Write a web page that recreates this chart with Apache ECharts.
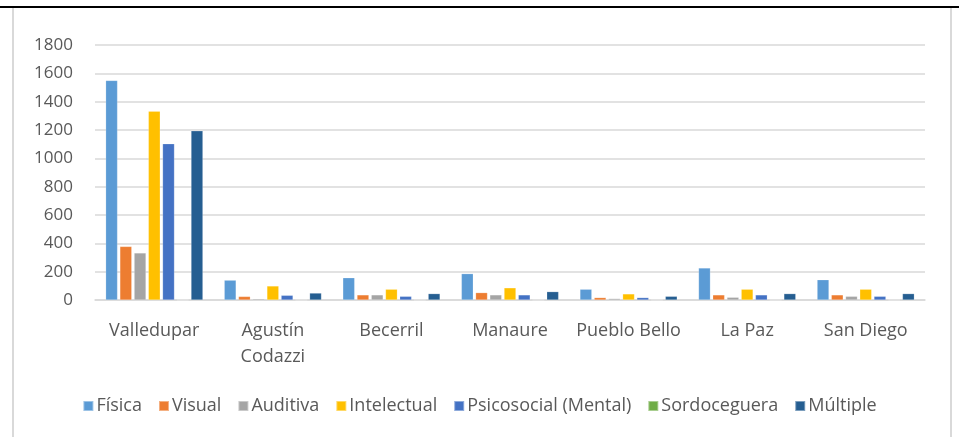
<!DOCTYPE html>
<html>
<head>
<meta charset="utf-8">
<script src="https://cdn.jsdelivr.net/npm/echarts@6/dist/echarts.min.js"></script>
<style>
  html, body { margin: 0; padding: 0; background: #fff; }
  #chart { width: 959px; height: 437px; }
</style>
</head>
<body>
<div id="chart"></div>
<script>
const municipios = ['Valledupar', 'Agustín\nCodazzi', 'Becerril', 'Manaure', 'Pueblo Bello', 'La Paz', 'San Diego'];
const fisica       = [1550, 140, 157, 186, 76, 226, 143];
const visual       = [378, 25, 36, 52, 17, 36, 36];
const auditiva     = [332, 8, 36, 36, 10, 19, 26];
const intelectual  = [1333, 99, 76, 86, 43, 76, 76];
const psicosocial  = [1103, 33, 26, 36, 17, 36, 26];
const sordoceguera = [0, 0, 0, 0, 0, 0, 0];
const multiple     = [1194, 49, 45, 59, 26, 45, 45];

const colors = ['#5B9BD5', '#ED7D31', '#A5A5A5', '#FFC000', '#4472C4', '#70AD47', '#255E91'];
const names = ['Física', 'Visual', 'Auditiva', 'Intelectual', 'Psicosocial (Mental)', 'Sordoceguera', 'Múltiple'];
const values = [fisica, visual, auditiva, intelectual, psicosocial, sordoceguera, multiple];

const font = "'Open Sans', 'Noto Sans', sans-serif";
const chart = echarts.init(document.getElementById('chart'));

chart.setOption({
  animation: false,
  color: colors,
  textStyle: { fontFamily: font, color: '#595959' },
  grid: { left: 95, right: 34, top: 45, bottom: 137, containLabel: false },
  legend: {
    bottom: 17,
    left: 'center',
    itemWidth: 10,
    itemHeight: 10,
    itemGap: 16,
    icon: 'rect',
    textStyle: { fontSize: 18, color: '#595959', fontFamily: font, padding: [0, 0, 0, -2] },
    data: names
  },
  xAxis: {
    type: 'category',
    data: municipios,
    axisLine: { lineStyle: { color: '#d9d9d9', width: 1.5 } },
    axisTick: { show: false },
    axisLabel: { fontSize: 18, color: '#595959', margin: 18, lineHeight: 26, interval: 0 }
  },
  yAxis: {
    type: 'value',
    min: 0,
    max: 1800,
    interval: 200,
    axisLine: { show: false },
    axisTick: { show: false },
    axisLabel: { fontSize: 17, color: '#595959', margin: 22, formatter: v => String(v) },
    splitLine: { lineStyle: { color: '#d9d9d9', width: 1.5 } }
  },
  series: names.map((n, i) => ({
    name: n,
    type: 'bar',
    data: values[i],
    barGap: '20%',
    barCategoryGap: '18%',
    itemStyle: { borderColor: 'rgba(255,255,255,0.4)', borderWidth: 0.5 }
  })),
  graphic: [
    { type: 'rect', shape: { x: 0, y: 6, width: 959, height: 2 }, style: { fill: '#000' } },
    { type: 'rect', shape: { x: 12, y: 8, width: 2, height: 429 }, style: { fill: '#d9d9d9' } },
    { type: 'rect', shape: { x: 950, y: 8, width: 2, height: 429 }, style: { fill: '#d9d9d9' } }
  ]
});
</script>
</body>
</html>
